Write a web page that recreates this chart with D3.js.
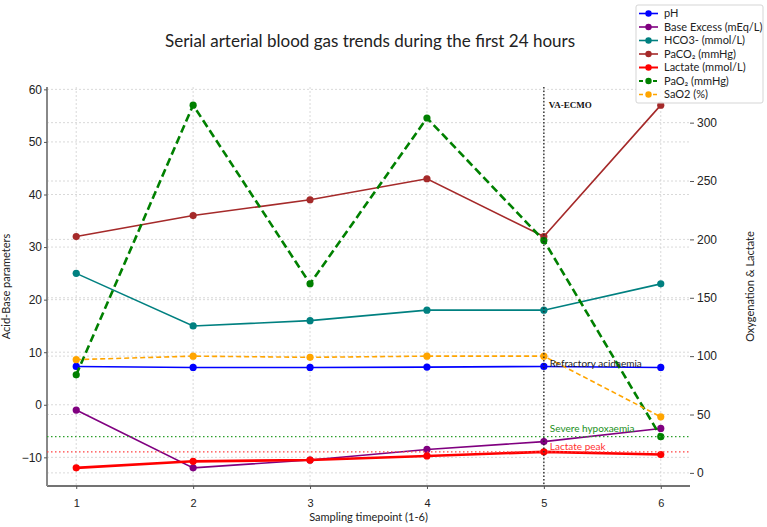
<!DOCTYPE html>
<html lang="en">
<head>
    <meta charset="UTF-8">
    <title>Serial arterial blood gas trends</title>
    <script src="https://cdnjs.cloudflare.com/ajax/libs/d3/7.8.5/d3.min.js"></script>
    <style>
        body { margin: 0; background: #fff; }
        svg { display: block; font-family: Lato, "Noto Sans", sans-serif; }
    </style>
</head>
<body>
<svg width="767" height="527"></svg>

<script>
    // values
    const timepoints = [1, 2, 3, 4, 5, 6];
    const pH = [7.29, 7.10, 7.10, 7.17, 7.29, 7.10];
    const baseExcess = [-1, -12, -10.5, -8.5, -7, -4.5];
    const hco3 = [25, 15, 16, 18, 18, 23];
    const paco2 = [32, 36, 39, 43, 32, 57];
    const lactate = [4.3, 9.9, 11, 14.5, 18, 15.7];
    const pao2 = [84, 315, 162, 304, 199, 31];
    const sao2 = [97, 100, 99, 100, 100, 48];

    const leftTicks = [-10, 0, 10, 20, 30, 40, 50, 60];
    const rightTicks = [0, 50, 100, 150, 200, 250, 300];
    const ecmoPoint = 5;

    const series = [
        {name: "pH", values: pH, axis: "left", color: "#0000ff", width: 1.6},
        {name: "Base Excess (mEq/L)", values: baseExcess, axis: "left", color: "#800080", width: 1.6},
        {name: "HCO3- (mmol/L)", values: hco3, axis: "left", color: "#008080", width: 1.6},
        {name: "PaCO\u2082 (mmHg)", values: paco2, axis: "left", color: "#a52a2a", width: 1.6},
        {name: "Lactate (mmol/L)", values: lactate, axis: "right", color: "#ff0000", width: 2.6},
        {name: "PaO\u2082 (mmHg)", values: pao2, axis: "right", color: "#008000", width: 2.6, dash: "8,4"},
        {name: "SaO2 (%)", values: sao2, axis: "right", color: "#ffa500", width: 1.6, dash: "5,3"}
    ];

    const svg = d3.select("svg");
    const margin = {top: 87, right: 77, bottom: 41, left: 47};
    const W = 767, H = 527;
    const innerW = W - margin.left - margin.right;
    const innerH = H - margin.top - margin.bottom;

    // matplotlib style 5% padding on every axis
    function padded(values) {
        const [lo, hi] = d3.extent(values);
        const m = (hi - lo) * 0.05;
        return [lo - m, hi + m];
    }

    const x = d3.scaleLinear().domain(padded(timepoints)).range([0, innerW]);
    const yLeft = d3.scaleLinear()
        .domain(padded(series.filter(s => s.axis === "left").flatMap(s => s.values)))
        .range([innerH, 0]);
    const yRight = d3.scaleLinear()
        .domain(padded(series.filter(s => s.axis === "right").flatMap(s => s.values)))
        .range([innerH, 0]);

    const g = svg.append("g").attr("transform", `translate(${margin.left},${margin.top})`);

    // grids
    const grid = g.append("g").attr("stroke", "#cfcfcf").attr("stroke-width", 0.8).attr("stroke-dasharray", "2,2");
    grid.selectAll(".gx").data(timepoints).enter().append("line")
        .attr("x1", d => x(d)).attr("x2", d => x(d)).attr("y1", 0).attr("y2", innerH);
    grid.selectAll(".gl").data(leftTicks).enter().append("line")
        .attr("x1", 0).attr("x2", innerW).attr("y1", d => yLeft(d)).attr("y2", d => yLeft(d));
    grid.selectAll(".gr").data(rightTicks).enter().append("line")
        .attr("x1", 0).attr("x2", innerW).attr("y1", d => yRight(d)).attr("y2", d => yRight(d));

    // axes
    const xAxis = g.append("g").attr("transform", `translate(0,${innerH})`)
        .call(d3.axisBottom(x).tickValues(timepoints).tickSize(3).tickPadding(10).tickFormat(d3.format("d")));
    const leftAxis = g.append("g")
        .call(d3.axisLeft(yLeft).tickValues(leftTicks).tickSize(3).tickPadding(2).tickFormat(d3.format("d")));
    const rightAxis = g.append("g").attr("transform", `translate(${innerW},0)`)
        .call(d3.axisRight(yRight).tickValues(rightTicks).tickSize(4).tickPadding(3).tickFormat(d3.format("d")));

    [xAxis, leftAxis, rightAxis].forEach(a => {
        a.selectAll("text").attr("font-size", 12).attr("fill", "#222");
        a.selectAll(".tick line").attr("stroke", "#555");
    });
    xAxis.selectAll("text").attr("font-size", 11);
    rightAxis.select(".domain").remove();
    xAxis.select(".domain").attr("stroke", "#444").attr("stroke-width", 1.6).attr("d", `M0,0H${innerW}`);
    leftAxis.select(".domain").attr("stroke", "#888").attr("stroke-width", 2).attr("d", `M0,0V${innerH}`);

    // axis titles
    g.append("text").attr("transform", `translate(${-37},${innerH / 2}) rotate(-90)`)
        .attr("text-anchor", "middle").attr("font-size", 11).attr("fill", "#222").text("Acid-Base parameters");
    g.append("text").attr("transform", `translate(${innerW + 64},${innerH / 2}) rotate(-90)`)
        .attr("text-anchor", "middle").attr("font-size", 11).attr("fill", "#222").text("Oxygenation & Lactate");
    g.append("text").attr("x", innerW / 2).attr("y", innerH + 35)
        .attr("text-anchor", "middle").attr("font-size", 11).attr("fill", "#222").text("Sampling timepoint (1-6)");

    // title
    svg.append("text").attr("x", 370).attr("y", 47).attr("text-anchor", "middle")
        .attr("font-size", 17).attr("fill", "#222").text("Serial arterial blood gas trends during the first 24 hours");

    // series
    series.forEach(s => {
        const yScale = s.axis === "left" ? yLeft : yRight;
        const line = d3.line().x((d, i) => x(timepoints[i])).y(d => yScale(d));
        g.append("path").datum(s.values)
            .attr("d", line)
            .attr("fill", "none")
            .attr("stroke", s.color)
            .attr("stroke-width", s.width)
            .attr("stroke-dasharray", s.dash || null);
        g.selectAll(null).data(s.values).enter().append("circle")
            .attr("cx", (d, i) => x(timepoints[i]))
            .attr("cy", d => yScale(d))
            .attr("r", 3.6)
            .attr("fill", s.color);
    });

    // reference lines
    const lactatePeak = d3.max(lactate);
    const hypoxaemia = d3.min(pao2);
    g.append("line").attr("x1", 0).attr("x2", innerW)
        .attr("y1", yRight(hypoxaemia)).attr("y2", yRight(hypoxaemia))
        .attr("stroke", "#2ca02c").attr("stroke-width", 1.2).attr("stroke-dasharray", "1.5,2.5");
    g.append("line").attr("x1", 0).attr("x2", innerW)
        .attr("y1", yRight(lactatePeak)).attr("y2", yRight(lactatePeak))
        .attr("stroke", "#ff4040").attr("stroke-width", 1.2).attr("stroke-dasharray", "1.5,2.5");
    g.append("line").attr("x1", x(ecmoPoint)).attr("x2", x(ecmoPoint)).attr("y1", 0).attr("y2", innerH)
        .attr("stroke", "#222").attr("stroke-width", 1.3).attr("stroke-dasharray", "1.5,2");

    // annotations
    g.append("text").attr("x", x(ecmoPoint) + 5).attr("y", 21)
        .attr("font-family", "'Liberation Serif', serif").attr("font-weight", "bold")
        .attr("font-size", 9).attr("fill", "#111").text("VA-ECMO");
    g.append("text").attr("x", x(ecmoPoint) + 6).attr("y", yLeft(d3.max(pH)) + 1)
        .attr("font-size", 10).attr("fill", "#222").text("Refractory acidaemia");
    g.append("text").attr("x", x(ecmoPoint) + 6).attr("y", yRight(hypoxaemia) - 5)
        .attr("font-size", 10).attr("fill", "#1a8f1a").text("Severe hypoxaemia");
    g.append("text").attr("x", x(ecmoPoint) + 6).attr("y", yRight(lactatePeak) - 2)
        .attr("font-size", 10).attr("fill", "#ff3030").text("Lactate peak");

    // legend
    const legend = svg.append("g").attr("transform", "translate(636,5)");
    legend.append("rect").attr("width", 127).attr("height", 98).attr("rx", 2)
        .attr("fill", "#fff").attr("fill-opacity", 0.85).attr("stroke", "#d5d5d5");
    const item = legend.selectAll(".item").data(series).enter().append("g")
        .attr("transform", (d, i) => `translate(0,${8.5 + i * 13.5})`);
    item.append("line").attr("x1", 3).attr("x2", 22)
        .attr("stroke", d => d.color).attr("stroke-width", d => Math.min(d.width, 2))
        .attr("stroke-dasharray", d => d.dash ? "4,3" : null);
    item.append("circle").attr("cx", 12.5).attr("r", 3.2).attr("fill", d => d.color);
    item.append("text").attr("x", 28).attr("dy", "0.35em").attr("font-size", 11).attr("fill", "#222")
        .text(d => d.name);
</script>
</body>
</html>
